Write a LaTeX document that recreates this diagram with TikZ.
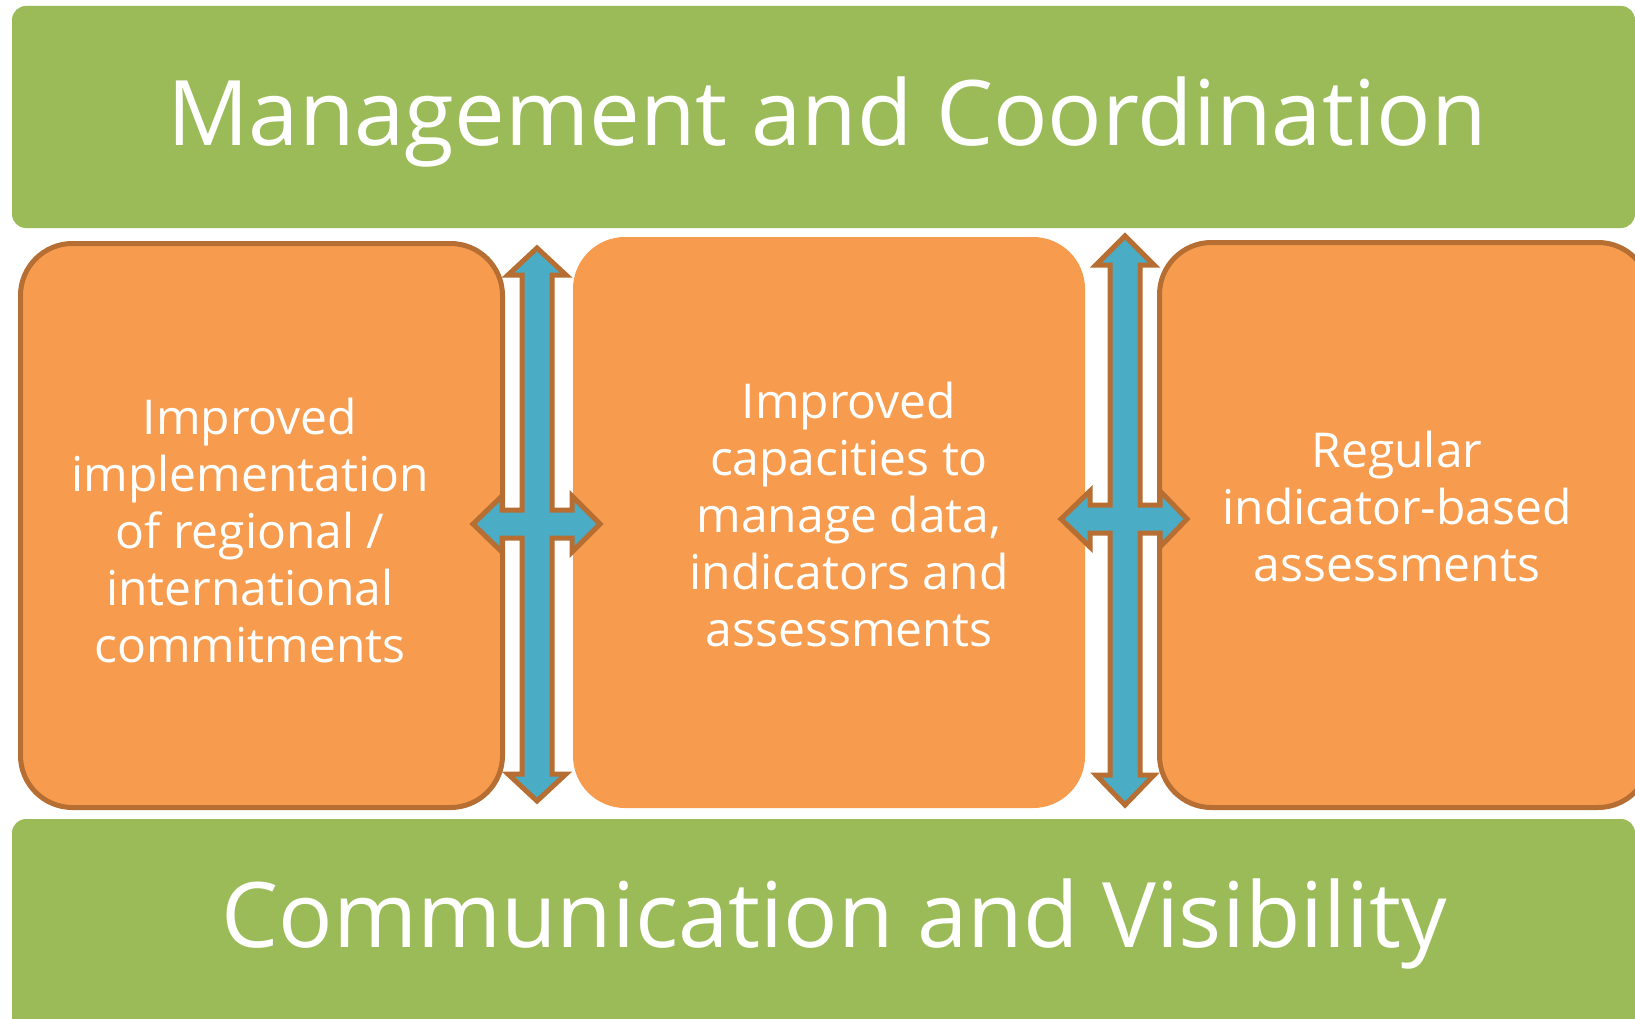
\documentclass[tikz,border=0pt]{standalone}
\usepackage{fontspec}
\setmainfont{Open Sans}
\definecolor{bargreen}{RGB}{155,187,89}
\definecolor{boxorange}{RGB}{247,156,78}
\definecolor{edgebrown}{RGB}{182,110,50}
\definecolor{arrowblue}{RGB}{75,172,198}
\tikzset{
  bar/.style={fill=bargreen, rounded corners=14pt, draw=none},
  obox/.style={fill=boxorange, rounded corners=52pt},
  edged/.style={draw=edgebrown, line width=5pt},
  quad/.style={fill=arrowblue, draw=edgebrown, line width=5pt, line join=miter},
  bigtext/.style={text=white, font=\fontsize{90.5}{105}\selectfont, inner sep=0pt, anchor=base},
  boxtext/.style={text=white, font=\fontsize{48}{57}\selectfont, align=center, inner sep=0pt}
}
\begin{document}
\begin{tikzpicture}[x=1pt,y=-1pt]
\path[use as bounding box] (0,0) rectangle (1635,1019);
\clip (0,0) rectangle (1635,1019);
\fill[white] (0,0) rectangle (1635,1019);
% bars
\path[bar] (12,6) rectangle (1635,228);
\path[bar] (12,819) rectangle (1635,1040);
\node[bigtext] (mc) at (827,146) {Management and Coordination};
\node[bigtext] (cv) at (834,947) {Communication and Visibility};
% boxes
\path[obox, edged] (20.5,243.5) rectangle (502.5,807.5);
\path[obox] (573,237) rectangle (1085,808);
\path[obox, edged] (1159.5,242.5) rectangle (1650,807.5);
\node[boxtext] (t1) at (250,530) {Improved\\implementation\\of regional /\\international\\commitments};
\node[boxtext] (t2) at (849,514) {Improved\\capacities to\\manage data,\\indicators and\\assessments};
\node[boxtext] (t3) at (1397,506) {Regular\\indicator-based\\assessments};
% quad arrows
\coordinate (a1) at (537,524);
\coordinate (a2) at (1125,519);
\begin{scope}[shift={(a1)}]
\path[quad] (0,-276) -- (29,-249) -- (15,-249) -- (15,-14) -- (35,-14) -- (35,-28) -- (63,0) -- (35,28) -- (35,14) -- (15,14) -- (15,250) -- (29,250) -- (0,277) -- (-29,250) -- (-15,250) -- (-15,14) -- (-35,14) -- (-35,28) -- (-64,0) -- (-35,-28) -- (-35,-14) -- (-15,-14) -- (-15,-249) -- (-29,-249) -- cycle;
\end{scope}
\begin{scope}[shift={(a2)}]
\path[quad] (0,-283) -- (29,-254) -- (15,-254) -- (15,-14) -- (35,-14) -- (35,-28) -- (62,0) -- (35,28) -- (35,14) -- (15,14) -- (15,256) -- (29,256) -- (0,286) -- (-29,256) -- (-15,256) -- (-15,14) -- (-35,14) -- (-35,28) -- (-64,0) -- (-35,-28) -- (-35,-14) -- (-15,-14) -- (-15,-254) -- (-29,-254) -- cycle;
\end{scope}
\end{tikzpicture}
\end{document}
